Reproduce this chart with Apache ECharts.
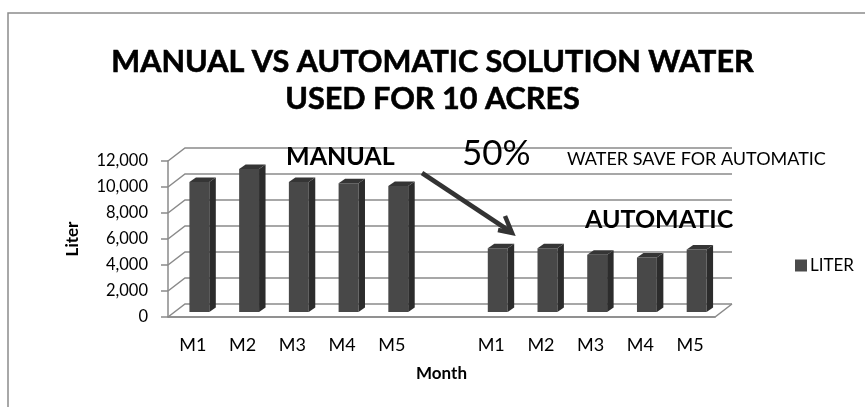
<!DOCTYPE html>
<html>
<head>
<meta charset="utf-8">
<script src="https://cdn.jsdelivr.net/npm/echarts@6/dist/echarts.min.js"></script>
<style>
  html, body { margin: 0; padding: 0; background: #fff; }
  #main { width: 865px; height: 407px; }
</style>
</head>
<body>
<div id="main"></div>
<script>
// values
var months = ['M1', 'M2', 'M3', 'M4', 'M5'];
var manualLiter = [10000, 11000, 10000, 9900, 9700];
var autoLiter = [4900, 4900, 4400, 4200, 4800];
var yTicks = [0, 2000, 4000, 6000, 8000, 10000, 12000];

// 11 slots: manual months, an empty gap, automatic months
var categories = months.concat(['']).concat(months);
var barData = [];
manualLiter.forEach(function (v, i) { barData.push([i, v]); });
autoLiter.forEach(function (v, i) { barData.push([i + months.length + 1, v]); });
var wallData = yTicks.map(function (v) { return [0, v]; });

var DX = 17, DY = -13;        // depth of the 3d box
var BX = 6.5, BY = -5;        // where the bars sit inside it
var SX = 6.5, SY = -4.5;      // depth of each bar
var FONT = 'Lato';

function renderWall(params, api) {
    var v = api.value(1);
    var band = api.size([1, 0])[0];
    var p0 = api.coord([0, v]);
    var p1 = api.coord([categories.length - 1, v]);
    var left = p0[0] - band / 2, right = p1[0] + band / 2, y = p0[1];
    var style = { stroke: '#8a8a8a', lineWidth: 1.5, fill: null };
    var children = [{
        type: 'polyline',
        shape: { points: [[left, y], [left + DX, y + DY], [right + DX, y + DY]] },
        style: style
    }];
    if (v === 0) {
        children.push({
            type: 'polyline',
            shape: { points: [[left, y], [right, y], [right + DX, y + DY]] },
            style: style
        });
    }
    return { type: 'group', children: children };
}

function renderBar(params, api) {
    var band = api.size([1, 0])[0];
    var w = band * 0.4;
    var base = api.coord([api.value(0), 0]);
    var top = api.coord([api.value(0), api.value(1)]);
    var xl = base[0] + BX - w / 2, xr = xl + w;
    var yb = base[1] + BY, yt = top[1] + BY;
    return {
        type: 'group',
        children: [{
            type: 'rect',
            shape: { x: xl, y: yt, width: w, height: yb - yt },
            style: { fill: '#484848' }
        }, {
            type: 'polygon',
            shape: { points: [[xr, yt], [xr + SX, yt + SY], [xr + SX, yb + SY], [xr, yb]] },
            style: { fill: '#2c2c2c' }
        }, {
            type: 'polygon',
            shape: { points: [[xl, yt], [xl + SX, yt + SY], [xr + SX, yt + SY], [xr, yt]] },
            style: { fill: '#353535' }
        }]
    };
}

var myChart = echarts.init(document.getElementById('main'));
myChart.setOption({
    animation: false,
    backgroundColor: '#fff',
    title: {
        text: 'MANUAL VS AUTOMATIC SOLUTION WATER\nUSED FOR 10 ACRES',
        left: 'center',
        top: 39,
        textStyle: {
            fontFamily: FONT, fontWeight: 'bold', fontSize: 30.6,
            lineHeight: 37, color: '#000',
            textBorderColor: '#000', textBorderWidth: 0.6
        }
    },
    legend: {
        data: ['LITER'],
        left: 795,
        top: 257,
        padding: 0,
        icon: 'rect',
        itemWidth: 12,
        itemHeight: 12,
        itemGap: 4,
        textStyle: { fontFamily: FONT, fontSize: 17, color: '#000', padding: [0, 0, 0, -2] }
    },
    grid: { left: 168, right: 150, top: 161, bottom: 90 },
    xAxis: {
        type: 'category',
        data: categories,
        name: 'Month',
        nameLocation: 'middle',
        nameGap: 48,
        nameTextStyle: { fontFamily: FONT, fontWeight: 'bold', fontSize: 17, color: '#000' },
        axisLine: { lineStyle: { color: '#8a8a8a', width: 1.5 } },
        axisTick: { show: false },
        axisLabel: { fontFamily: FONT, fontSize: 18, color: '#000', margin: 19, interval: 0 },
        splitLine: { show: false }
    },
    yAxis: {
        type: 'value',
        min: 0,
        max: 12000,
        interval: 2000,
        name: 'Liter',
        nameLocation: 'middle',
        nameGap: 87,
        nameTextStyle: { fontFamily: FONT, fontWeight: 'bold', fontSize: 17, color: '#000' },
        axisLine: { show: true, lineStyle: { color: '#8a8a8a', width: 1.5 } },
        axisTick: { show: true, length: 7, lineStyle: { color: '#8a8a8a', width: 1.5 } },
        axisLabel: {
            fontFamily: FONT, fontSize: 16.5, color: '#000', margin: 20,
            formatter: function (v) { return v.toLocaleString('en-US'); }
        },
        splitLine: { show: false }
    },
    series: [{
        type: 'custom',
        name: 'wall',
        silent: true,
        renderItem: renderWall,
        data: wallData,
        z: 1
    }, {
        type: 'custom',
        name: 'LITER',
        renderItem: renderBar,
        itemStyle: { color: '#4a4a4a' },
        data: barData,
        z: 3
    }],
    graphic: [{
        type: 'rect',
        shape: { x: 8, y: 13, width: 900, height: 500 },
        style: { fill: null, stroke: '#8c8c8c', lineWidth: 1.5 },
        silent: true, z: 0
    }, {
        type: 'text', left: 286, top: 144,
        style: { text: 'MANUAL', fontFamily: FONT, fontWeight: 'bold', fontSize: 25, fill: '#000' },
        z: 10
    }, {
        type: 'text', left: 462, top: 136,
        style: { text: '50%', fontFamily: FONT, fontSize: 35, fill: '#000' },
        z: 10
    }, {
        type: 'text', left: 567, top: 150,
        style: { text: 'WATER SAVE FOR AUTOMATIC', fontFamily: FONT, fontSize: 18, fill: '#000' },
        z: 10
    }, {
        type: 'text', left: 585, top: 207,
        style: { text: 'AUTOMATIC', fontFamily: FONT, fontWeight: 'bold', fontSize: 25, fill: '#000' },
        z: 10
    }, {
        type: 'polyline',
        shape: { points: [[422, 173], [511, 232]] },
        style: { stroke: '#333', lineWidth: 4.5, fill: null },
        z: 10
    }, {
        type: 'polyline',
        shape: { points: [[498, 230], [512, 233], [505, 216]] },
        style: { stroke: '#333', lineWidth: 4.5, fill: null, lineJoin: 'miter' },
        z: 10
    }]
});
</script>
</body>
</html>
